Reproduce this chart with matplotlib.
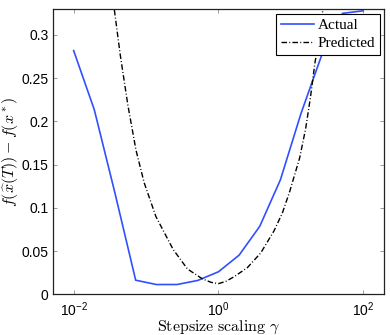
import numpy as np
import matplotlib
matplotlib.use("Agg")
import matplotlib.pyplot as plt
from matplotlib.ticker import FixedLocator, FixedFormatter, NullLocator

plt.rcParams["mathtext.fontset"] = "custom"
plt.rcParams["mathtext.rm"] = "Liberation Sans"
plt.rcParams["mathtext.it"] = "Liberation Sans:italic"
plt.rcParams["font.family"] = "Liberation Sans"

# Actual: measured suboptimality at log-spaced step-size scalings
actual_gamma = np.logspace(-2, 2, 15)
actual_gap = [0.282, 0.2135, 0.117, 0.0165, 0.0115, 0.0115, 0.0162, 0.0262,
              0.0454, 0.0788, 0.1327, 0.2097, 0.277, 0.325, 0.328]

# Predicted curve (log10 of gamma, value)
pred_log_gamma = [-1.48, -1.439, -1.356, -1.251, -1.139, -1.025, -0.863, -0.625,
                  -0.428, -0.221, -0.10, 0.0, 0.10, 0.217, 0.40, 0.585, 0.768,
                  0.883, 0.985, 1.123, 1.206, 1.272, 1.334, 1.40, 1.444, 1.48]
pred_gap = [0.365, 0.33, 0.277, 0.219, 0.167, 0.129, 0.090, 0.052,
            0.0295, 0.0180, 0.0140, 0.0125, 0.0150, 0.0205, 0.0310, 0.0480, 0.0735,
            0.094, 0.119, 0.158, 0.192, 0.228, 0.268, 0.300, 0.33, 0.36]

y_ticks = [0, 0.05, 0.1, 0.15, 0.2, 0.25, 0.3]
y_tick_labels = ["0", "0.05", "0.1", "0.15", "0.2", "0.25", "0.3"]
x_ticks = [1e-2, 1e0, 1e2]
x_tick_labels = [r"$10^{-2}$", r"$10^{0}$", r"$10^{2}$"]

fig = plt.figure(figsize=(3.9, 3.35), dpi=100)
ax = fig.add_axes([0.135, 0.121, 0.850, 0.852])

ax.plot(actual_gamma, actual_gap, color="#3050ff", lw=1.2, label="Actual")
ax.plot(10 ** np.array(pred_log_gamma), pred_gap, color="black", lw=1.0,
        dashes=(4.0, 1.6, 0.7, 1.6), label="Predicted")

ax.set_xscale("log")
ax.set_xlim(10 ** -2.29, 10 ** 2.29)
ax.set_ylim(0, 0.33)

ax.xaxis.set_major_locator(FixedLocator(x_ticks))
ax.xaxis.set_major_formatter(FixedFormatter(x_tick_labels))
ax.xaxis.set_minor_locator(NullLocator())
ax.yaxis.set_major_locator(FixedLocator(y_ticks))
ax.yaxis.set_major_formatter(FixedFormatter(y_tick_labels))

ax.tick_params(direction="in", length=3, width=0.6, color="0.55",
               top=True, right=True, labelsize=10, labelcolor="black")
ax.tick_params(axis="y", pad=3)
ax.tick_params(axis="x", pad=4)
for s in ax.spines.values():
    s.set_linewidth(0.9)
    s.set_color("#222222")

ax.set_xlabel(r"$\mathrm{Stepsize\ scaling}\ \gamma$", fontsize=11.5,
              math_fontfamily="cm", labelpad=0)
ax.set_ylabel(r"$f(\widehat{x}(T)) - f(x^*)$", fontsize=11.5,
              math_fontfamily="cm", labelpad=1)

leg = ax.legend(loc="upper right", prop={"family": "Liberation Serif", "size": 11},
                frameon=True, fancybox=False, borderaxespad=0.3,
                handlelength=2.2, handletextpad=0.2, borderpad=0.3,
                labelspacing=0.3)
leg.get_frame().set_edgecolor("black")
leg.get_frame().set_linewidth(0.8)
leg.get_frame().set_alpha(1)

fig.savefig("out.png", dpi=100)
